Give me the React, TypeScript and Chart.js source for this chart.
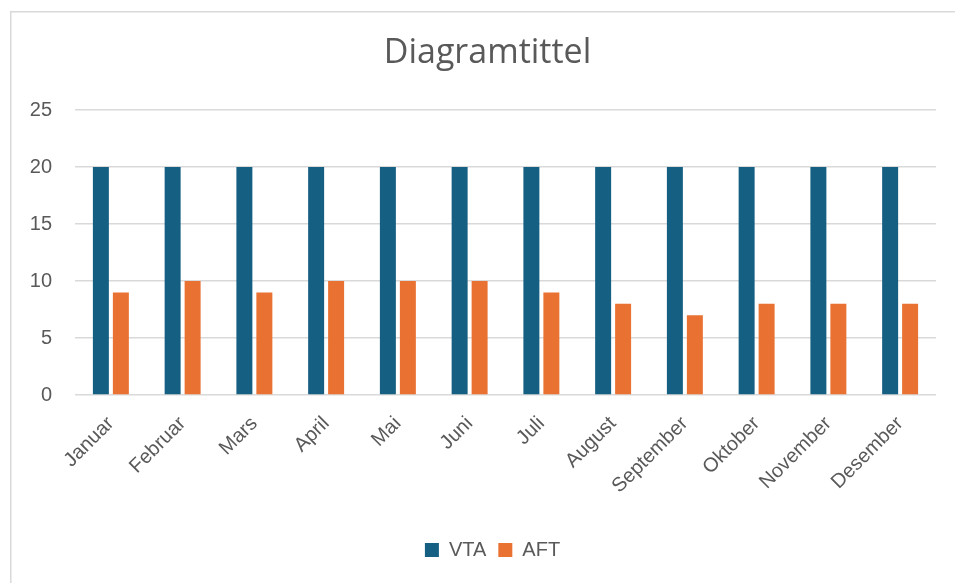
import React, { useEffect, useRef } from "react";
import { Chart, registerables } from "chart.js";

Chart.register(...registerables);

const categories = ["Januar", "Februar", "Mars", "April", "Mai", "Juni", "Juli", "August", "September", "Oktober", "November", "Desember"];
const vtaValues = [20, 20, 20, 20, 20, 20, 20, 20, 20, 20, 20, 20];
const aftValues = [9, 10, 9, 10, 10, 10, 9, 8, 7, 8, 8, 8];
const seriesNames = ["VTA", "AFT"];
const titleText = "Diagramtittel";

const W = 955;
const H = 583;

const framePlugin = {
  id: "frame",
  beforeDraw(chart: any) {
    const ctx = chart.ctx;
    ctx.save();
    ctx.fillStyle = "#ffffff";
    ctx.fillRect(0, 0, chart.width, chart.height);
    ctx.strokeStyle = "#d9d9d9";
    ctx.lineWidth = 1.5;
    ctx.beginPath();
    ctx.moveTo(10.75, chart.height);
    ctx.lineTo(10.75, 11.75);
    ctx.lineTo(chart.width, 11.75);
    ctx.stroke();
    ctx.restore();
  },
  afterLayout(chart: any) {
    if (chart.legend) {
      chart.legend.left += 31;
    }
    if (chart.titleBlock) {
      chart.titleBlock.left += 21;
    }
  },
};

export default function App() {
  const ref = useRef<HTMLCanvasElement | null>(null);
  useEffect(() => {
    if (!ref.current) return;
    const tickColor = "#595959";
    const font = { family: "'Liberation Sans', Arial, sans-serif", size: 20 };
    const chart = new Chart(ref.current, {
      type: "bar",
      data: {
        labels: categories,
        datasets: [
          { label: seriesNames[0], data: vtaValues, backgroundColor: "#156082", borderWidth: 0, categoryPercentage: 0.557, barPercentage: 0.8 },
          { label: seriesNames[1], data: aftValues, backgroundColor: "#E97132", borderWidth: 0, categoryPercentage: 0.557, barPercentage: 0.8 },
        ],
      },
      options: {
        responsive: false,
        animation: false,
        devicePixelRatio: 1,
        layout: { padding: { left: 18, right: 19, top: 0, bottom: 13 } },
        plugins: {
          title: {
            display: true,
            text: titleText,
            color: tickColor,
            font: { family: "'Open Sans', sans-serif", size: 34, weight: "normal" },
            padding: { top: 33, bottom: 36.2 },
          },
          legend: {
            position: "bottom",
            labels: {
              boxWidth: 14,
              boxHeight: 14,
              padding: 12,
              color: tickColor,
              font,
            },
          },
          tooltip: { enabled: false },
        },
        scales: {
          x: {
            grid: { display: false },
            border: { display: false },
            ticks: {
              color: tickColor,
              font,
              minRotation: 45,
              maxRotation: 45,
              padding: 9,
              autoSkip: false,
            },
            afterFit(scale: any) {
              scale.height = 133;
            },
          },
          y: {
            min: 0,
            max: 25,
            ticks: {
              stepSize: 5,
              color: tickColor,
              font,
              padding: 23,
            },
            grid: { color: "#d9d9d9", lineWidth: 1.5, drawTicks: false },
            border: { display: false },
            afterFit(scale: any) {
              scale.width = 57;
            },
          },
        },
      },
      plugins: [framePlugin],
    });
    return () => chart.destroy();
  }, []);
  return (
    <div style={{ position: "absolute", left: 0, top: 0, width: W, height: H, overflow: "hidden", background: "#fff" }}>
      <canvas ref={ref} width={W} height={H} style={{ display: "block" }} />
    </div>
  );
}
